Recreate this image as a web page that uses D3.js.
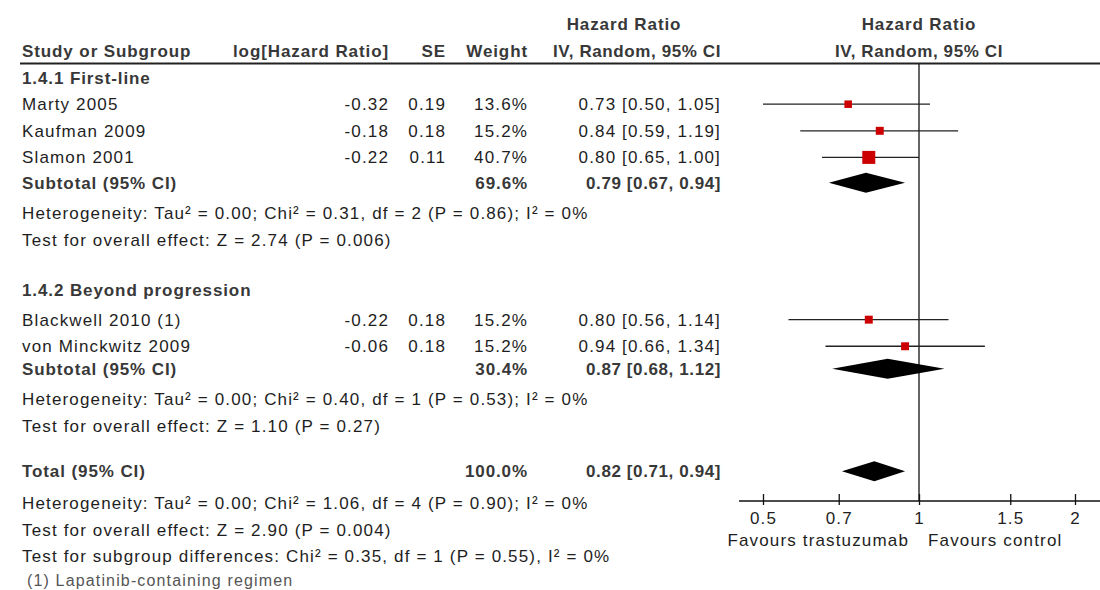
<!DOCTYPE html>
<html>
<head>
<meta charset="utf-8">
<script src="https://cdn.jsdelivr.net/npm/d3@7"></script>
<style>
  body { margin: 0; background: #fff; }
  svg text { font-family: "Liberation Sans", Arial, sans-serif; }
</style>
</head>
<body>
<div id="forest-container"></div>
<script>
// study level data
var studyNames = ["Marty 2005", "Kaufman 2009", "Slamon 2001", "Blackwell 2010 (1)", "von Minckwitz 2009"];
var studyGroup = [0, 0, 0, 1, 1];
var logHR = ["-0.32", "-0.18", "-0.22", "-0.22", "-0.06"];
var seValues = ["0.19", "0.18", "0.11", "0.18", "0.18"];
var weights = [13.6, 15.2, 40.7, 15.2, 15.2];
var hazardRatios = [0.73, 0.84, 0.80, 0.80, 0.94];
var lowerCI = [0.50, 0.59, 0.65, 0.56, 0.66];
var upperCI = [1.05, 1.19, 1.00, 1.14, 1.34];

// subgroups
var groupNames = ["1.4.1 First-line", "1.4.2 Beyond progression"];
var subtotalHR = [0.79, 0.87];
var subtotalLower = [0.67, 0.68];
var subtotalUpper = [0.94, 1.12];
var subtotalWeight = [69.6, 30.4];
var groupHeterogeneity = [
    "Heterogeneity: Tau\u00b2 = 0.00; Chi\u00b2 = 0.31, df = 2 (P = 0.86); I\u00b2 = 0%",
    "Heterogeneity: Tau\u00b2 = 0.00; Chi\u00b2 = 0.40, df = 1 (P = 0.53); I\u00b2 = 0%"
];
var groupEffect = [
    "Test for overall effect: Z = 2.74 (P = 0.006)",
    "Test for overall effect: Z = 1.10 (P = 0.27)"
];

// overall
var totalHR = [0.82];
var totalLower = [0.71];
var totalUpper = [0.94];
var totalWeight = [100.0];
var totalNotes = [
    "Heterogeneity: Tau\u00b2 = 0.00; Chi\u00b2 = 1.06, df = 4 (P = 0.90); I\u00b2 = 0%",
    "Test for overall effect: Z = 2.90 (P = 0.004)",
    "Test for subgroup differences: Chi\u00b2 = 0.35, df = 1 (P = 0.55), I\u00b2 = 0%"
];
var footnotes = ["(1) Lapatinib-containing regimen"];

// axis
var axisTicks = [0.5, 0.7, 1, 1.5, 2];
var favoursLabels = ["Favours trastuzumab", "Favours control"];

var width = 1100, height = 590;

var svg = d3.select("#forest-container")
    .append("svg")
    .attr("width", width)
    .attr("height", height);

// rows are placed in "slots", slot 0 is the column header
var yRow = d3.scaleLinear().domain([0, 1]).range([51, 77.6]);

// hazard ratio scale (log)
var x = d3.scaleLog().domain([0.5, 2]).range([763, 1075]);
var axisY = 501;

// square size by weight
var boxSize = d3.scaleSqrt().domain([0, d3.max(weights)]).range([0, 13]);

var fmt2 = d3.format(".2f");
var fmtW = d3.format(".1f");
function ciText(h, l, u) {
    return fmt2(h) + " [" + fmt2(l) + ", " + fmt2(u) + "]";
}

var boldColor = "#383838", textColor = "#1e1e1e";

function addText(str, xPos, slot, opts) {
    opts = opts || {};
    return svg.append("text")
        .attr("x", xPos)
        .attr("y", typeof slot === "number" ? yRow(slot) : slot.y)
        .attr("dy", "0.35em")
        .attr("text-anchor", opts.anchor || "start")
        .style("font-size", (opts.size || 17) + "px")
        .style("font-weight", opts.bold ? "bold" : "normal")
        .style("letter-spacing", (opts.spacing != null ? opts.spacing : (opts.bold ? 0.9 : 1.15)) + "px")
        .style("fill", opts.color || (opts.bold ? boldColor : textColor))
        .text(str);
}

// column positions
var colName = 22, colLog = 389, colSE = 446, colWeight = 528, colCI = 721;

// header
addText("Hazard Ratio", 624, -1, { bold: true, anchor: "middle" });
addText("Hazard Ratio", x(1), -1, { bold: true, anchor: "middle" });
addText("Study or Subgroup", colName, 0, { bold: true });
addText("log[Hazard Ratio]", colLog, 0, { bold: true, anchor: "end" });
addText("SE", colSE, 0, { bold: true, anchor: "end" });
addText("Weight", colWeight, 0, { bold: true, anchor: "end" });
addText("IV, Random, 95% CI", colCI, 0, { bold: true, anchor: "end", spacing: 0.6 });
addText("IV, Random, 95% CI", x(1), 0, { bold: true, anchor: "middle", spacing: 0.6 });

svg.append("line")
    .attr("x1", 20).attr("x2", width)
    .attr("y1", 63.5).attr("y2", 63.5)
    .attr("stroke", "#222").attr("stroke-width", 2);

// null line
svg.append("line")
    .attr("x1", x(1)).attr("x2", x(1))
    .attr("y1", 64).attr("y2", axisY)
    .attr("stroke", "#111").attr("stroke-width", 1.3);

// slot layout for each group
var groupSlots = [
    { header: 1, studies: [2, 3, 4], subtotal: 4.95, het: 6.1, effect: 7.1 },
    { header: 9, studies: [10.1, 11.1], subtotal: 11.95, het: 13.1, effect: 14.1 }
];
var totalSlot = 15.8;
var noteSlots = [17, 18, 19];
var footSlot = 19.9;

function drawDiamond(h, l, u, slot) {
    var cy = yRow(slot);
    svg.append("path")
        .attr("d", "M" + x(l) + "," + cy + "L" + x(h) + "," + (cy - 10) +
            "L" + x(u) + "," + cy + "L" + x(h) + "," + (cy + 10) + "Z")
        .attr("fill", "#000");
}

groupNames.forEach(function (gName, g) {
    var slots = groupSlots[g];
    addText(gName, colName, slots.header, { bold: true });

    var idx = studyGroup.map(function (d, i) { return d === g ? i : -1; })
        .filter(function (i) { return i >= 0; });

    idx.forEach(function (i, k) {
        var slot = slots.studies[k];
        var cy = yRow(slot);
        addText(studyNames[i], colName, slot);
        addText(logHR[i], colLog, slot, { anchor: "end" });
        addText(seValues[i], colSE, slot, { anchor: "end" });
        addText(fmtW(weights[i]) + "%", colWeight, slot, { anchor: "end" });
        addText(ciText(hazardRatios[i], lowerCI[i], upperCI[i]), colCI, slot, { anchor: "end" });

        svg.append("line")
            .attr("x1", x(lowerCI[i])).attr("x2", x(upperCI[i]))
            .attr("y1", cy).attr("y2", cy)
            .attr("stroke", "#222").attr("stroke-width", 1.3);
        var s = boxSize(weights[i]);
        svg.append("rect")
            .attr("x", x(hazardRatios[i]) - s / 2)
            .attr("y", cy - s / 2)
            .attr("width", s).attr("height", s)
            .attr("fill", "#cc0000");
    });

    addText("Subtotal (95% CI)", colName, slots.subtotal, { bold: true });
    addText(fmtW(subtotalWeight[g]) + "%", colWeight, slots.subtotal, { bold: true, anchor: "end" });
    addText(ciText(subtotalHR[g], subtotalLower[g], subtotalUpper[g]), colCI, slots.subtotal, { bold: true, anchor: "end", spacing: 0.6 });
    drawDiamond(subtotalHR[g], subtotalLower[g], subtotalUpper[g], slots.subtotal);

    addText(groupHeterogeneity[g], colName, slots.het);
    addText(groupEffect[g], colName, slots.effect);
});

// total
addText("Total (95% CI)", colName, totalSlot, { bold: true });
addText(fmtW(totalWeight[0]) + "%", colWeight, totalSlot, { bold: true, anchor: "end" });
addText(ciText(totalHR[0], totalLower[0], totalUpper[0]), colCI, totalSlot, { bold: true, anchor: "end", spacing: 0.6 });
drawDiamond(totalHR[0], totalLower[0], totalUpper[0], totalSlot);

totalNotes.forEach(function (t, i) {
    addText(t, colName, noteSlots[i]);
});
footnotes.forEach(function (t) {
    addText(t, colName + 5, footSlot, { color: "#555", size: 16 });
});

// x axis
svg.append("line")
    .attr("x1", x.range()[0] - 24).attr("x2", width)
    .attr("y1", axisY).attr("y2", axisY)
    .attr("stroke", "#111").attr("stroke-width", 1.3);

var axisG = svg.append("g")
    .attr("transform", "translate(0," + axisY + ")")
    .call(d3.axisBottom(x).tickValues(axisTicks).tickFormat(function (d) { return d; }));

axisG.select(".domain").remove();
axisG.selectAll(".tick line")
    .attr("y1", -7).attr("y2", 4)
    .attr("stroke", "#111").attr("stroke-width", 1.3);
axisG.selectAll(".tick text")
    .attr("y", 11)
    .attr("dy", "0.71em")
    .style("font-family", "Liberation Sans, Arial, sans-serif")
    .style("font-size", "17px")
    .style("letter-spacing", "1.1px")
    .style("fill", textColor);

addText(favoursLabels[0], x(1) - 10, { y: 540 }, { anchor: "end" });
addText(favoursLabels[1], x(1) + 9, { y: 540 });
</script>
</body>
</html>
